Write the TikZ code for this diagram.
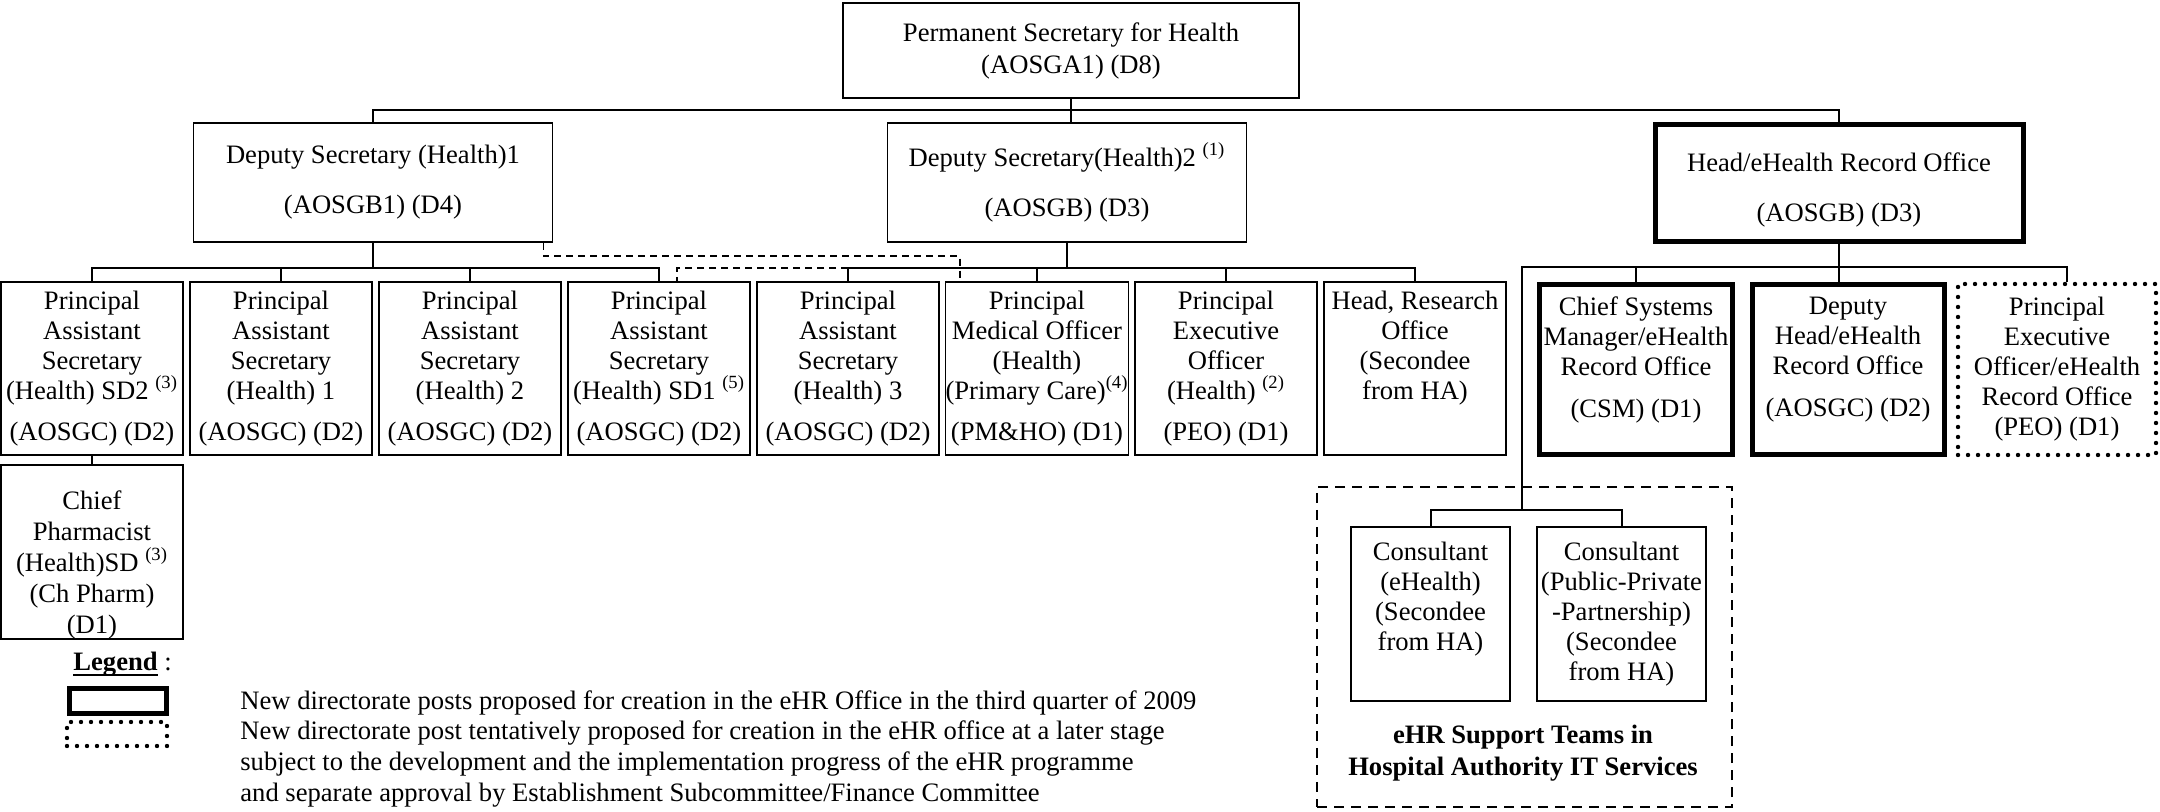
\documentclass[tikz,border=0pt]{standalone}
\usepackage{fontspec}
\setmainfont{Liberation Serif}
\usetikzlibrary{positioning}

\begin{document}
\begin{tikzpicture}[x=0.5pt, y=-0.5pt, node distance=94.5pt,
    font=\fontsize{13.3pt}{15pt}\selectfont,
    box/.style={rectangle, draw, line width=0.9pt, align=center, inner sep=0pt},
    post/.style={box, minimum width=91pt, minimum height=86.5pt},
    newpost/.style={box, line width=2.5pt},
    laterpost/.style={box, line width=2.2pt, dash pattern=on 0pt off 5pt, line cap=round},
    link/.style={line width=1pt},
    sidelink/.style={line width=0.9pt, dash pattern=on 3.5pt off 2.5pt},
    teamframe/.style={rectangle, draw, line width=0.9pt, dash pattern=on 5pt off 3.5pt}]
    \useasboundingbox (0,0) rectangle (2160,812);

    \node[box, minimum width=228pt, minimum height=47.5pt] (ps) at (1071,50.5) {Permanent Secretary for Health\\[1pt](AOSGA1) (D8)};
    \node[box, minimum width=179.5pt, minimum height=59.5pt] (ds1) at (373,182.5) {Deputy Secretary (Health)1\\[10pt](AOSGB1) (D4)};
    \node[box, minimum width=179.5pt, minimum height=59.5pt] (ds2) at (1067,182.5) {Deputy Secretary(Health)2 \textsuperscript{(1)}\\[10pt](AOSGB) (D3)};
    \node[newpost, minimum width=184pt, minimum height=58.5pt] (eho) at (1839,183) {\rule{0pt}{16.5pt}Head/eHealth Record Office\\[10pt](AOSGB) (D3)};

    \node[post] (pas1) at (92,368.5) {Principal\\Assistant\\Secretary\\(Health) SD2 \textsuperscript{(3)}\\[5.5pt](AOSGC) (D2)};
    \node[post, right of=pas1] (pas2) {Principal\\Assistant\\Secretary\\(Health) 1\\[5.5pt](AOSGC) (D2)};
    \node[post, right of=pas2] (pas3) {Principal\\Assistant\\Secretary\\(Health) 2\\[5.5pt](AOSGC) (D2)};
    \node[post, right of=pas3] (pas4) {Principal\\Assistant\\Secretary\\(Health) SD1 \textsuperscript{(5)}\\[5.5pt](AOSGC) (D2)};
    \node[post, right of=pas4] (pas5) {Principal\\Assistant\\Secretary\\(Health) 3\\[5.5pt](AOSGC) (D2)};
    \node[post, right of=pas5] (pmo) {Principal\\Medical Officer\\(Health)\\(Primary Care)\textsuperscript{(4)}\\[5.5pt](PM\&HO) (D1)};
    \node[post, right of=pmo] (peoh) {Principal\\Executive\\Officer\\(Health) \textsuperscript{(2)}\\[5.5pt](PEO) (D1)};
    \node[post, right of=peoh] (hro) {Head, Research\\Office\\(Secondee\\from HA)\\[5.5pt]\phantom{(D1)}};
    \node[post, minimum height=87pt] (cph) at (92,552) {\rule{0pt}{22pt}Chief\\[0.5pt]Pharmacist\\[0.5pt](Health)SD \textsuperscript{(3)}\\[0.5pt](Ch Pharm)\\[0.5pt](D1)};

    \node[newpost, minimum width=96.5pt, minimum height=85pt] (csm) at (1636,369.5) {Chief Systems\\Manager/eHealth\\Record Office\\[6pt](CSM) (D1)\rule[-12.5pt]{0pt}{12.5pt}};
    \node[newpost, minimum width=96pt, minimum height=85pt, right of=csm, node distance=106pt] (dhd) {Deputy\\Head/eHealth\\Record Office\\[6pt](AOSGC) (D2)\rule[-12.5pt]{0pt}{12.5pt}};
    \node[laterpost, minimum width=99pt, minimum height=85.5pt, right of=dhd, node distance=104.5pt] (peoe) {Principal\\Executive\\Officer/eHealth\\Record Office\\(PEO) (D1)};

    \node[teamframe, minimum width=207.5pt, minimum height=160pt] (team) at (1524.5,647) {};
    \node[box, minimum width=79.5pt, minimum height=87pt] (cons1) at (1430.5,614) {Consultant\\(eHealth)\\(Secondee\\from HA)\\\phantom{(}};
    \node[box, minimum width=84.5pt, minimum height=87pt] (cons2) at (1621.5,614) {Consultant\\(Public-Private\\-Partnership)\\(Secondee\\from HA)};
    \node[align=center, font=\fontsize{13.3pt}{15pt}\selectfont\bfseries] (teamname) at (1523,753) {eHR Support Teams in\\[1pt]Hospital Authority IT Services};

    \coordinate (topbus) at (1071,110);
    \coordinate (bus1) at (373,268);
    \coordinate (bus2) at (1067,268);
    \coordinate (ehrbus) at (1522,267);
    \coordinate (teamjoin) at (1522,510);

    \draw[link] (ps.south) -- (ps.south |- ds2.north);
    \draw[link] (ds1.north) |- (topbus) -| (eho.north);

    \draw[link] (ds1.south) -- (bus1);
    \draw[link] (pas1.north) |- (bus1) -| (pas4.north);
    \foreach \p in {pas2,pas3}
        \draw[link] (\p.north) -- (\p.north |- bus1);
    \draw[link] (pas1.south) -- (cph.north);

    \draw[link] (ds2.south) -- (bus2);
    \draw[link] (pas5.north) |- (bus2) -| (hro.north);
    \foreach \p in {pmo,peoh}
        \draw[link] (\p.north) -- (\p.north |- bus2);
    \draw[sidelink] (pas5.north |- bus2) -| ([xshift=9pt]pas4.north);
    \draw[sidelink] ([xshift=-5pt]ds1.south east) -- ++(0,-6.5pt) -| ([xshift=7.5pt]pmo.north west);

    \draw[link] (eho.south) -- (eho.south |- dhd.north);
    \draw[link] (teamjoin) -- (ehrbus) -| ([xshift=5pt]peoe.north);
    \draw[link] (csm.north) -- (csm.north |- ehrbus);
    \draw[link] (cons1.north) |- (teamjoin) -| (cons2.north);

    \node[anchor=west, inner sep=0pt] (legend) at (73,664) {\textbf{Legend}\rlap{ :}};
    \draw[line width=1.2pt] ([yshift=-2.5pt]legend.base west) -- ([yshift=-2.5pt]legend.base east);
    \node[newpost, minimum width=48.5pt, minimum height=12.5pt] (keynew) at (118,701) {};
    \node[laterpost, minimum width=50pt, minimum height=12pt] (keylater) at (117,734) {};
    \node[anchor=west, inner sep=0pt] (keynewtext) at (240,703) {New directorate posts proposed for creation in the eHR Office in the third quarter of 2009};
    \node[anchor=west, inner sep=0pt, align=left] (keylatertext) at (240,764) {New directorate post tentatively proposed for creation in the eHR office at a later stage\\[0.5pt]subject to the development and the implementation progress of the eHR programme\\[0.5pt]and separate approval by Establishment Subcommittee/Finance Committee};
\end{tikzpicture}
\end{document}
